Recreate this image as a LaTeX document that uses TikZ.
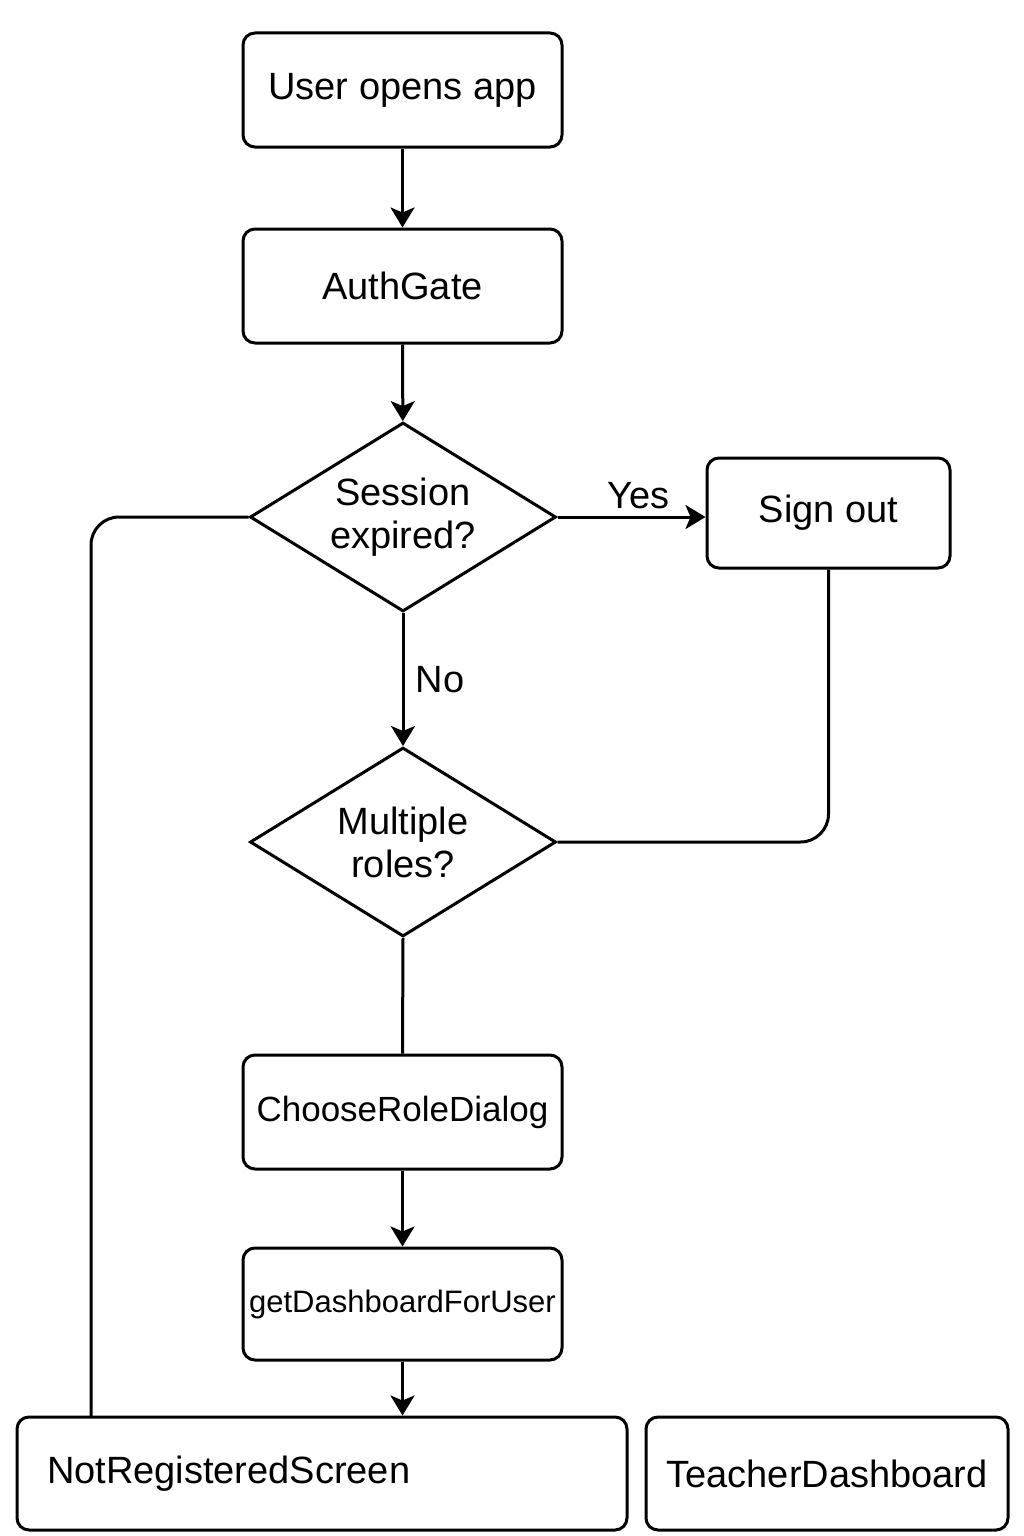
\documentclass[tikz,border=0pt]{standalone}
\usepackage{fontspec}
\setmainfont{Liberation Sans}
\usetikzlibrary{shapes.geometric,arrows.meta}
\begin{document}
\begin{tikzpicture}[x=1pt,y=-1pt,
  every node/.style={font=\fontsize{38}{43}\selectfont},
  box/.style={draw, line width=3pt, rounded corners=12pt, inner sep=0pt, minimum width=319pt, minimum height=114pt, align=center},
  dec/.style={draw, line width=3pt, diamond, aspect=1.62, inner sep=0pt, minimum width=306pt, minimum height=189pt, align=center},
  conn/.style={line width=3pt},
  arr/.style={line width=3pt, -{Stealth[length=20pt,width=24pt,inset=5pt]}},
  lbl/.style={font=\fontsize{38}{43}\selectfont}
]
\useasboundingbox (0,0) rectangle (1024,1536);
\node[box] (start) at (402.5,90) {User opens app};
\node[box] (auth) at (402.5,286) {AuthGate};
\node[dec] (sess) at (403,517) {Session\\expired?};
\node[box, minimum width=243pt, minimum height=110pt] (so) at (828.5,513) {Sign out};
\node[dec] (multi) at (403,842) {Multiple\\roles?};
\node[box, font=\fontsize{35}{40}\selectfont] (choose) at (402.5,1112) {ChooseRoleDialog};
\node[box, minimum height=112pt, font=\fontsize{31}{36}\selectfont] (gd) at (402.5,1304) {getDashboardForUser};
\node[box, minimum width=610pt, minimum height=113pt, text width=550pt, align=left] (nr) at (322,1473.5) {\raisebox{-3pt}{NotRegisteredScreen}};
\node[box, minimum width=362pt, minimum height=113pt] (td) at (827,1473.5) {TeacherDashboard};
\coordinate (lk) at (91,1417);

\draw[arr] (start) -- (auth);
\draw[arr] (auth) -- (sess);
\draw[arr] (sess.east) -- node[lbl, above=3pt, pos=0.55] {Yes} (sess.east -| so.west);
\draw[arr] (sess.south) -- node[lbl, right=8pt, pos=0.5] {No} (multi.north);
\draw[conn, rounded corners=28pt] (so.south) |- (multi.east);
\draw[conn] (multi.south) -- (choose.north);
\draw[arr] (choose) -- (gd);
\draw[arr] (gd.south) -- (gd.south |- nr.north);
\draw[conn, rounded corners=28pt] (sess.west) -| (lk);
\end{tikzpicture}
\end{document}
